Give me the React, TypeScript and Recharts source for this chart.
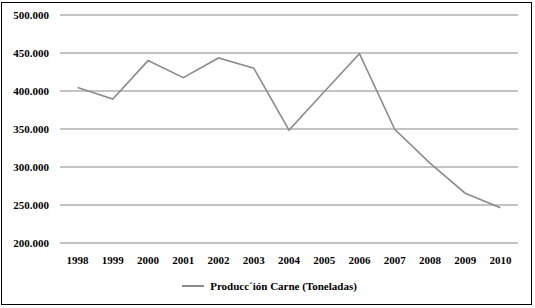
import React from 'react';
import { LineChart, Line, XAxis, YAxis, CartesianGrid, Legend } from 'recharts';

const years = ['1998', '1999', '2000', '2001', '2002', '2003', '2004', '2005', '2006', '2007', '2008', '2009', '2010'];
const production = [404500, 389500, 440000, 417500, 443500, 430000, 348500, 399000, 449000, 349500, 305000, 265500, 246500];
const yTicks = [200000, 250000, 300000, 350000, 400000, 450000, 500000];
const seriesName = 'Producc´ión Carne (Toneladas)';

const data = years.map((y, i) => ({ year: y, value: production[i] }));

const FONT = '"Liberation Serif", "Times New Roman", serif';

const fmt = (v: number) => {
  const s = Math.round(v).toString();
  return s.replace(/\B(?=(\d{3})+(?!\d))/g, '.');
};

const LegendContent = (props: any) => {
  const items = props.payload || [];
  return (
    <div
      style={{
        display: 'flex',
        justifyContent: 'center',
        alignItems: 'center',
        height: 25,
        paddingLeft: 4,
        fontFamily: FONT,
        fontWeight: 'bold',
        fontSize: 11,
        color: '#000',
      }}
    >
      {items.map((it: any, i: number) => (
        <div key={i} style={{ display: 'flex', alignItems: 'center' }}>
          <svg width={22} height={6} style={{ display: 'block' }}>
            <line x1={0} y1={3} x2={22} y2={3} stroke={it.color} strokeWidth={2} />
          </svg>
          <span style={{ marginLeft: 6 }}>{it.value}</span>
        </div>
      ))}
    </div>
  );
};

export default function App() {
  return (
    <div style={{ position: 'absolute', left: 0, top: 0, width: 535, height: 308, background: '#fff' }}>
      <div
        style={{
          position: 'absolute',
          left: 1,
          top: 2,
          width: 531,
          height: 303,
          border: '1px solid #000',
          boxSizing: 'border-box',
        }}
      />
      <LineChart
        width={535}
        height={308}
        data={data}
        margin={{ top: 15, right: 17, left: 0, bottom: 10 }}
        style={{ position: 'absolute', left: 0, top: 0 }}
      >
        <CartesianGrid vertical={false} stroke="#888888" strokeWidth={1} />
        <XAxis
          dataKey="year"
          axisLine={false}
          tickLine={false}
          tickMargin={7}
          height={30}
          interval={0}
          padding={{ left: 17.6, right: 17.6 }}
          tick={{ fill: '#000', fontFamily: FONT, fontWeight: 'bold', fontSize: 11 }}
        />
        <YAxis
          domain={[200000, 500000]}
          ticks={yTicks}
          tickFormatter={fmt}
          axisLine={false}
          tickLine={false}
          tickMargin={5}
          width={60}
          tick={{ fill: '#000', fontFamily: FONT, fontWeight: 'bold', fontSize: 11 }}
        />
        <Legend
          verticalAlign="bottom"
          align="center"
          content={LegendContent}
          wrapperStyle={{ left: 0, width: 535 }}
        />
        <Line
          type="linear"
          dataKey="value"
          name={seriesName}
          stroke="#8c8c8c"
          strokeWidth={1.6}
          dot={false}
          isAnimationActive={false}
        />
      </LineChart>
    </div>
  );
}
